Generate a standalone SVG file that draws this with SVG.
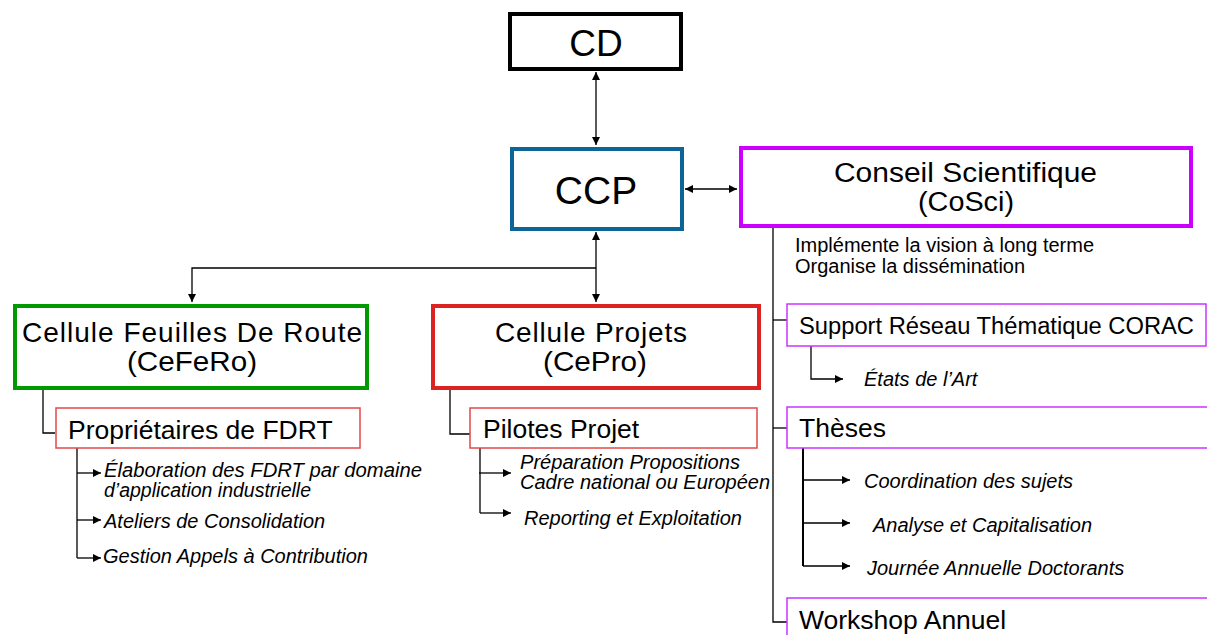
<svg xmlns="http://www.w3.org/2000/svg" width="1207" height="635" viewBox="0 0 1207 635">
<style>
text{font-family:"Liberation Sans",Arial,sans-serif;fill:#000}
.big{fill:#fff;stroke-width:4}
.sub{fill:#fff;stroke-width:1.5}
.it{font-style:italic;font-size:20px}
.it2{font-style:italic;font-size:19.5px}
.s{font-size:26.5px}
.c{fill:none;stroke:#000;stroke-width:1.3}
</style>
<defs>
<marker id="ah" viewBox="0 0 10 10" refX="10" refY="5" markerWidth="8" markerHeight="8" markerUnits="userSpaceOnUse" orient="auto-start-reverse">
<path d="M0,0 L10,5 L0,10 z" fill="#000"/>
</marker>
</defs>
<g id="connectors">
<line class="c" x1="596" y1="72" x2="596" y2="145" marker-start="url(#ah)" marker-end="url(#ah)"/>
<line class="c" x1="685" y1="189" x2="737" y2="189" marker-start="url(#ah)" marker-end="url(#ah)"/>
<line class="c" x1="596" y1="232" x2="596" y2="302" marker-start="url(#ah)" marker-end="url(#ah)"/>
<polyline class="c" points="596,268 192,268 192,302" marker-end="url(#ah)"/>
<polyline class="c" points="43,390 43,433 55,433"/>
<polyline class="c" points="77,448 77,558"/>
<line class="c" x1="77" y1="473" x2="101" y2="473" marker-end="url(#ah)"/>
<line class="c" x1="77" y1="520" x2="101" y2="520" marker-end="url(#ah)"/>
<line class="c" x1="77" y1="558" x2="101" y2="558" marker-end="url(#ah)"/>
<polyline class="c" points="450,389 450,434 470,434"/>
<polyline class="c" points="480,448 480,513"/>
<line class="c" x1="479" y1="473" x2="511" y2="473" marker-end="url(#ah)"/>
<line class="c" x1="480" y1="513" x2="511" y2="513" marker-end="url(#ah)"/>
<polyline class="c" points="773,228 773,622 787,622"/>
<line class="c" x1="773" y1="320" x2="787" y2="320"/>
<line class="c" x1="773" y1="428" x2="787" y2="428"/>
<polyline class="c" points="811,346 811,379 843,379" marker-end="url(#ah)"/>
<line x1="803" y1="448" x2="803" y2="566" stroke="#000" stroke-width="2"/>
<line class="c" x1="803" y1="480" x2="850" y2="480" marker-end="url(#ah)"/>
<line class="c" x1="803" y1="523" x2="850" y2="523" marker-end="url(#ah)"/>
<line class="c" x1="803" y1="566" x2="850" y2="566" marker-end="url(#ah)"/>
</g>
<g id="cd">
<rect class="big" x="510" y="14" width="171" height="55" stroke="#000"/>
<text x="596" y="56" font-size="37" text-anchor="middle">CD</text>
</g>
<g id="ccp">
<rect class="big" x="512" y="149" width="170" height="80" stroke="#0b6697"/>
<text x="596" y="204" font-size="39" text-anchor="middle">CCP</text>
</g>
<g id="cosci">
<rect class="big" x="741" y="148" width="450" height="78" stroke="#cc00ff"/>
<text x="834" y="182" font-size="27" textLength="263" lengthAdjust="spacingAndGlyphs">Conseil Scientifique</text>
<text x="918" y="211" font-size="27" textLength="96" lengthAdjust="spacingAndGlyphs">(CoSci)</text>
<text x="795" y="252" font-size="20">Implémente la vision à long terme</text>
<text x="795" y="273" font-size="20">Organise la dissémination</text>
</g>
<g id="cefero">
<rect class="big" x="15" y="306" width="352" height="82" stroke="#009900"/>
<text x="22" y="342" font-size="28" textLength="340" lengthAdjust="spacing">Cellule Feuilles De Route</text>
<text x="127" y="371" font-size="28" textLength="130" lengthAdjust="spacingAndGlyphs">(CeFeRo)</text>
</g>
<g id="cepro">
<rect class="big" x="433" y="306" width="326" height="82" stroke="#dd2222"/>
<text x="495" y="342" font-size="28" textLength="192" lengthAdjust="spacing">Cellule Projets</text>
<text x="543" y="371" font-size="28" textLength="104" lengthAdjust="spacingAndGlyphs">(CePro)</text>
</g>
<g id="proprietaires">
<rect class="sub" x="56" y="408" width="304" height="40" stroke="#e04848"/>
<text class="s" x="68" y="439">Propriétaires de FDRT</text>
<text class="it2" x="104" y="477" textLength="318" lengthAdjust="spacingAndGlyphs">Élaboration des FDRT par domaine</text>
<text class="it2" x="104" y="497">d’application industrielle</text>
<text class="it" x="104" y="528">Ateliers de Consolidation</text>
<text class="it" x="103" y="563">Gestion Appels à Contribution</text>
</g>
<g id="pilotes">
<rect class="sub" x="470" y="408" width="287" height="40" stroke="#e04848"/>
<text class="s" x="483" y="438">Pilotes Projet</text>
<text class="it2" x="520" y="469" textLength="220" lengthAdjust="spacingAndGlyphs">Préparation Propositions</text>
<text class="it2" x="520" y="489" textLength="250" lengthAdjust="spacingAndGlyphs">Cadre national ou Européen</text>
<text class="it" x="524" y="525">Reporting et Exploitation</text>
</g>
<g id="support">
<rect class="sub" x="787" y="304" width="419" height="42" stroke="#cc33ff"/>
<text x="799" y="334" font-size="23" textLength="395" lengthAdjust="spacingAndGlyphs">Support Réseau Thématique CORAC</text>
<text class="it" x="864" y="386">États de l’Art</text>
</g>
<g id="theses">
<rect class="sub" x="787" y="407" width="440" height="41" stroke="#cc33ff"/>
<text class="s" x="799" y="437">Thèses</text>
<text class="it" x="864" y="488">Coordination des sujets</text>
<text class="it" x="873" y="532">Analyse et Capitalisation</text>
<text class="it" x="867" y="575">Journée Annuelle Doctorants</text>
</g>
<g id="workshop">
<rect class="sub" x="787" y="598" width="440" height="60" stroke="#cc33ff"/>
<text class="s" x="799" y="629">Workshop Annuel</text>
</g>
</svg>
